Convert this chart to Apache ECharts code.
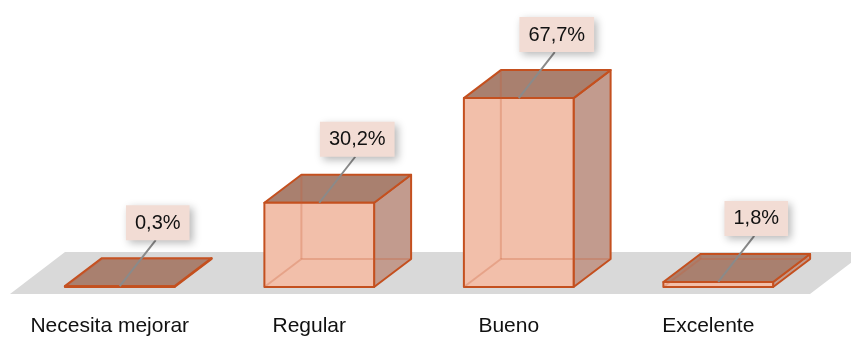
<!DOCTYPE html>
<html>
<head>
<meta charset="UTF-8">
<title>Evaluación</title>
<script src="https://cdn.jsdelivr.net/npm/echarts@6/dist/echarts.min.js"></script>
<style>
  html, body { margin: 0; padding: 0; background: #fff; }
  #main { width: 851px; height: 340px; }
</style>
</head>
<body>
<div id="main"></div>
<script>
// datos del gráfico
var categorias = ['Necesita mejorar', 'Regular', 'Bueno', 'Excelente'];
var porcentajes = [0.3, 30.2, 67.7, 1.8];
var etiquetas = ['0,3%', '30,2%', '67,7%', '1,8%'];

var DX = 37, DY = -28;          // profundidad 3D
var borde = '#c4501f';

var myChart = echarts.init(document.getElementById('main'));

function suelo(params, api) {
  var cs = params.coordSys;
  var yf = cs.y + cs.height + 7;
  var xl = cs.x - 10, xr = cs.x + cs.width - 8;
  return {
    type: 'polygon',
    shape: { points: [[xl, yf], [xl + 55, yf - 42], [xr + 55, yf - 42], [xr, yf]] },
    style: { fill: '#d9d9d9' }
  };
}

function barra(params, api) {
  var i = api.value(0), v = api.value(1);
  var top = api.coord([i, v]);
  var base = api.coord([i, 0]);
  var w = api.size([1, 0])[0] * 0.55;
  var x0 = top[0] - w / 2, x1 = top[0] + w / 2;
  var yt = top[1], yb = base[1];
  var ln = { stroke: borde, lineWidth: 2, lineJoin: 'round' };
  var oculto = { stroke: 'rgba(200,90,50,0.28)', lineWidth: 2 };
  return {
    type: 'group',
    children: [
      { type: 'polygon', shape: { points: [[x1, yb], [x1 + DX, yb + DY], [x1 + DX, yt + DY], [x1, yt]] },
        style: Object.assign({ fill: '#c29b8e' }, ln) },
      { type: 'polygon', shape: { points: [[x0, yt], [x0 + DX, yt + DY], [x1 + DX, yt + DY], [x1, yt]] },
        style: Object.assign({ fill: '#a9806f' }, ln) },
      { type: 'rect', shape: { x: x0, y: yt, width: w, height: yb - yt },
        style: Object.assign({ fill: '#f2bfaa' }, ln) },
      { type: 'line', shape: { x1: x0 + DX, y1: yb + DY, x2: x0 + DX, y2: yt + DY }, style: oculto },
      { type: 'line', shape: { x1: x0 + DX, y1: yb + DY, x2: x1 + DX, y2: yb + DY }, style: oculto },
      { type: 'line', shape: { x1: x0, y1: yb, x2: x0 + DX, y2: yb + DY }, style: oculto },
      { type: 'line', shape: { x1: top[0], y1: yt, x2: top[0] + 36, y2: yt - 46 },
        style: { stroke: '#8a8a8a', lineWidth: 2 } },
      { type: 'text', x: top[0] + 38, y: yt - 46,
        style: {
          text: etiquetas[params.dataIndex],
          font: '20px "Liberation Sans", Arial, sans-serif',
          fill: '#111',
          align: 'center', verticalAlign: 'bottom',
          backgroundColor: '#f2dcd4',
          padding: [8, 9, 7, 9],
          shadowColor: 'rgba(0,0,0,0.28)', shadowBlur: 8,
          shadowOffsetX: 3, shadowOffsetY: 3
        } }
    ]
  };
}

var option = {
  animation: false,
  grid: { left: 20, right: 33, top: 8, bottom: 53 },
  xAxis: {
    type: 'category',
    data: categorias,
    axisLine: { show: false },
    axisTick: { show: false },
    axisLabel: {
      interval: 0,
      hideOverlap: false,
      margin: 29,
      color: '#111',
      fontSize: 21,
      fontFamily: '"Liberation Sans", Arial, sans-serif',
      padding: [0, 20, 0, 0]
    }
  },
  yAxis: { type: 'value', min: 0, max: 100, show: false },
  series: [
    { type: 'custom', renderItem: suelo, data: [[0, 0]], z: 1, silent: true },
    { type: 'custom', renderItem: barra, z: 2,
      data: porcentajes.map(function (p, i) { return [i, p]; }) }
  ]
};

myChart.setOption(option);
</script>
</body>
</html>
